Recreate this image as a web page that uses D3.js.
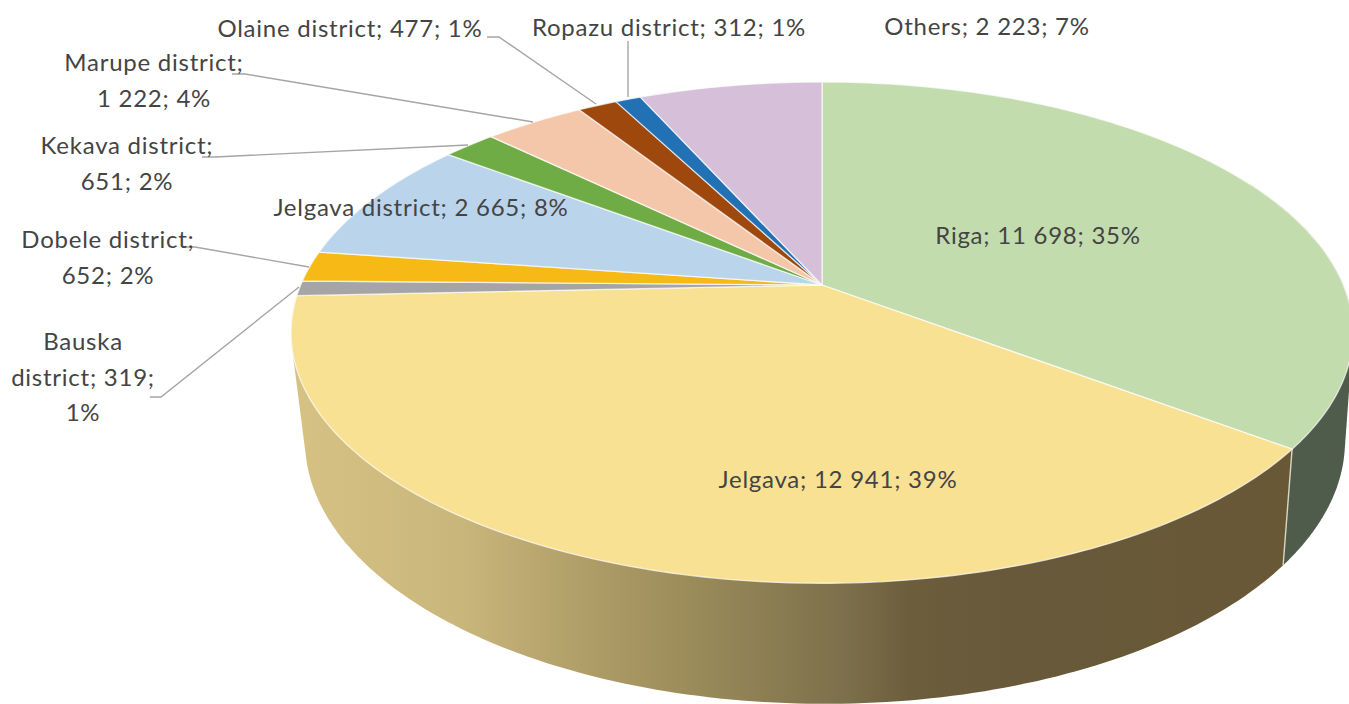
<!DOCTYPE html>
<html><head><meta charset="utf-8">
<script src="https://cdn.jsdelivr.net/npm/d3@7/dist/d3.min.js"></script>
<style>html,body{margin:0;padding:0;background:#fff;overflow:hidden}svg{display:block}</style>
</head><body><svg id="c" width="1349" height="704"></svg>
<script>
const categories=["Riga","Jelgava","Bauska district","Dobele district","Jelgava district","Kekava district","Marupe district","Olaine district","Ropazu district","Others"];
const values=[11698,12941,319,652,2665,651,1222,477,312,2223];
const sliceColors=["#C3DCAE","#F9E193","#A5A5A5","#F6B915","#BAD4EC","#6FAC46","#F5C7AA","#9E480E","#2271B5","#D6BFD9"];
const wallStops=[[292,"#D6C283"],[460,"#C9B67B"],[600,"#AD9B66"],[700,"#998A59"],[800,"#857850"],[850,"#7B6E4A"],[910,"#6C5E3C"],[1000,"#67593A"],[1290,"#685836"]];
const rigaWall="#4F5B4B";
// label placement: centre x, baseline of first line, character offsets for wraps
const labelLayout=[
 {x:1038,y:244,wrap:[]},{x:838,y:488,wrap:[]},
 {x:83,y:350,wrap:[6,21]},{x:108,y:248,wrap:[16]},
 {x:421,y:216,wrap:[]},{x:127,y:154,wrap:[16]},
 {x:154,y:71,wrap:[16]},{x:350,y:37,wrap:[]},
 {x:669,y:36,wrap:[]},{x:987,y:35,wrap:[]}];
const leaders=[null,null,
 [[150,397],[161,397],[299,287]],[[182,247],[195,247],[309,267]],null,
 [[202,157],[215,157],[468,145]],[[232,74],[245,74],[533,122]],
 [[487,37],[499,37],[596,104]],[[628,41],[628,97]],null];

const svg=d3.select("#c");
const total=d3.sum(values);
const num=d3.formatLocale({decimal:".",thousands:" ",grouping:[3],currency:["",""]}).format(",d");
const arcs=d3.pie().sort(null).value(d=>d)(values);

function projector(cx,cy,R,S,k){
  return t=>{const u=Math.sin(t),v=-Math.cos(t),w=1-k*v;return [cx+R*u/w,cy+S*v/w];};
}
const top3=projector(822,285,521.3,241.6,0.19);
const bot3=projector(825,393.6,511.5,254.4,0.18);
const samples=(a,b,n=80)=>d3.range(n+1).map(i=>a+(b-a)*i/n);
const line=d3.line();
const defs=svg.append("defs");
const grad=defs.append("linearGradient").attr("id","wall").attr("gradientUnits","userSpaceOnUse")
  .attr("x1",292).attr("x2",1290).attr("y1",0).attr("y2",0);
grad.selectAll("stop").data(wallStops).join("stop")
  .attr("offset",d=>(d[0]-292)/(1290-292)).attr("stop-color",d=>d[1]);

const seam=arcs[0].endAngle;
// side walls: convex hull of the rim and base arcs
const wallPath=(a,b)=>{const s=samples(a,b,160);return line(d3.polygonHull([...s.map(top3),...s.map(bot3)]))+"Z";};
svg.append("path").attr("d",wallPath(Math.PI*0.35,seam)).attr("fill",rigaWall);
svg.append("path").attr("d",wallPath(seam,Math.PI*1.62)).attr("fill","url(#wall)");
svg.append("path").attr("d",line([top3(seam),bot3(seam)])).attr("stroke","#D9D6C4").attr("stroke-width",1.4).attr("fill","none");

// top slices
svg.selectAll("path.slice").data(arcs).join("path").attr("class","slice")
  .attr("d",d=>line([[822,285],...samples(d.startAngle,d.endAngle,Math.max(8,Math.ceil((d.endAngle-d.startAngle)*60))).map(top3)])+"Z")
  .attr("fill",(d,i)=>sliceColors[i])
  .attr("stroke","#fff").attr("stroke-opacity",0.7).attr("stroke-width",1.3).attr("stroke-linejoin","round");

// leader lines
svg.selectAll("path.leader").data(leaders.filter(Boolean)).join("path").attr("class","leader")
  .attr("d",d=>line(d)).attr("fill","none").attr("stroke","#A5A5A5").attr("stroke-width",1.4);

// labels
const g=svg.append("g").attr("font-family","Lato, Carlito, sans-serif").attr("font-size",24).attr("letter-spacing",0.75).attr("fill","#444").attr("text-anchor","middle");
categories.forEach((c,i)=>{
  const full=`${c}; ${num(values[i])}; ${Math.round(values[i]/total*100)}%`;
  const p=labelLayout[i];
  const cuts=[0,...p.wrap,full.length];
  const t=g.append("text").attr("x",p.x).attr("y",p.y);
  d3.pairs(cuts).forEach(([a,b],j)=>{
    t.append("tspan").attr("x",p.x).attr("dy",j?35.5:0).text(full.slice(a,b).trim());
  });
});
</script></body></html>
